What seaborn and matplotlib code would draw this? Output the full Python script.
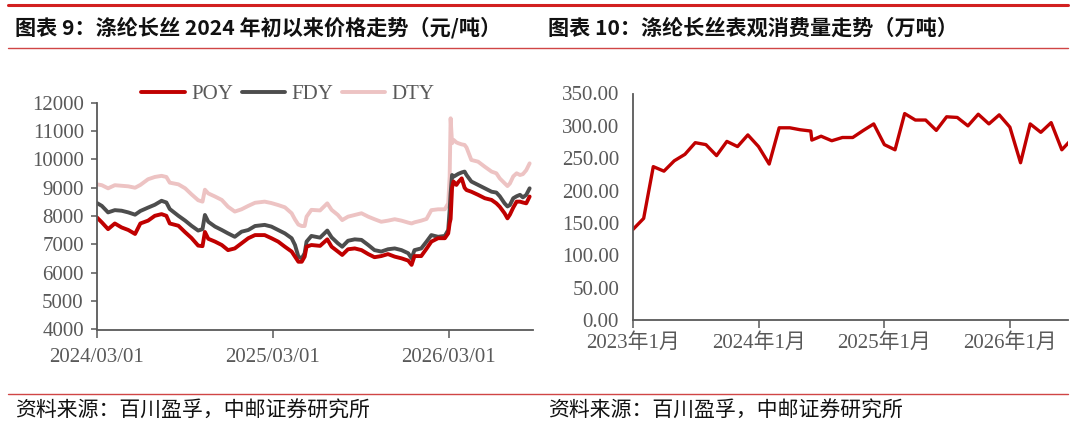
import matplotlib
matplotlib.use("Agg")
import numpy as np
import pandas as pd
import matplotlib.pyplot as plt
import matplotlib.dates as mdates
from matplotlib.lines import Line2D
import seaborn as sns

# ---- data: left chart, prices (yuan/ton) ----
price_dates = [
    "2024-03-01", "2024-03-11", "2024-03-24", "2024-04-07", "2024-04-21", "2024-05-05",
    "2024-05-19", "2024-05-30", "2024-06-15", "2024-06-29", "2024-07-13", "2024-07-23",
    "2024-07-30", "2024-08-17", "2024-08-31", "2024-09-13", "2024-09-27", "2024-10-06",
    "2024-10-11", "2024-10-18", "2024-11-01", "2024-11-15", "2024-11-28", "2024-12-12",
    "2024-12-26", "2025-01-09", "2025-01-23", "2025-02-12", "2025-02-26", "2025-03-12",
    "2025-03-26", "2025-04-09", "2025-04-16", "2025-04-23", "2025-04-30", "2025-05-06",
    "2025-05-10", "2025-05-20", "2025-06-07", "2025-06-22", "2025-07-01", "2025-07-14",
    "2025-07-23", "2025-08-04", "2025-08-18", "2025-09-01", "2025-09-15", "2025-09-28",
    "2025-10-12", "2025-10-26", "2025-11-09", "2025-11-23", "2025-12-07", "2025-12-14",
    "2025-12-20", "2026-01-03", "2026-01-14", "2026-01-24", "2026-02-07", "2026-02-21",
    "2026-02-28", "2026-03-03", "2026-03-05", "2026-03-08", "2026-03-11", "2026-03-17",
    "2026-03-21", "2026-03-28", "2026-04-03", "2026-04-07", "2026-04-17", "2026-05-01",
    "2026-05-15", "2026-05-29", "2026-06-08", "2026-06-15", "2026-06-25", "2026-07-01",
    "2026-07-06", "2026-07-13", "2026-07-20", "2026-07-27", "2026-08-02", "2026-08-09",
    "2026-08-16",
]
dty = [
    9120, 9090, 8980, 9090, 9070, 9050, 9000, 9100, 9300, 9380, 9420, 9380,
    9180, 9120, 8980, 8770, 8560, 8510, 8930, 8800, 8690, 8570, 8330, 8160,
    8240, 8360, 8470, 8510, 8460, 8390, 8310, 8100, 7880, 7700, 7650, 7650,
    7980, 8220, 8200, 8450, 8220, 8040, 7860, 7980, 8040, 8100, 7980, 7890,
    7800, 7840, 7890, 7840, 7770, 7740, 7780, 7840, 7900, 8210, 8240, 8240,
    8450, 9390, 11450, 10570, 10690, 10600, 10570, 10530, 10510, 10420, 9980, 9920,
    9740, 9570, 9510, 9330, 9160, 9060, 9150, 9400, 9510, 9450, 9480, 9620,
    9860,
]
fdy = [
    8460, 8360, 8130, 8210, 8190, 8130, 8050, 8180, 8300, 8400, 8540, 8480,
    8250, 8010, 7840, 7660, 7490, 7540, 8040, 7800, 7630, 7510, 7390, 7270,
    7450, 7510, 7650, 7690, 7630, 7510, 7390, 7220, 6980, 6570, 6510, 6690,
    7100, 7300, 7240, 7490, 7250, 7040, 6920, 7130, 7180, 7160, 6980, 6800,
    6750, 6830, 6860, 6800, 6690, 6510, 6800, 6860, 7100, 7330, 7270, 7300,
    7510, 8220, 8800, 9450, 9390, 9450, 9490, 9540, 9570, 9450, 9220, 9100,
    8980, 8860, 8830, 8700, 8450, 8340, 8390, 8630, 8700, 8750, 8660, 8750,
    8980,
]
poy = [
    7950, 7780, 7540, 7740, 7600, 7510, 7370, 7740, 7840, 8010, 8070, 8010,
    7740, 7660, 7430, 7230, 6960, 6940, 7440, 7200, 7100, 6980, 6800, 6860,
    7040, 7220, 7330, 7330, 7220, 7100, 6920, 6750, 6570, 6390, 6390, 6570,
    6920, 6980, 6950, 7180, 6920, 6750, 6630, 6830, 6860, 6800, 6660, 6550,
    6590, 6660, 6570, 6510, 6430, 6280, 6590, 6590, 6850, 7100, 7220, 7220,
    7390, 7750, 7900, 9000, 9220, 9100, 9200, 9330, 9000, 8920, 8860, 8750,
    8630, 8570, 8450, 8330, 8100, 7920, 8050, 8300, 8510, 8510, 8480, 8450,
    8690,
]
price_ticks = ["2024-03-01", "2025-03-01", "2026-03-01"]

# ---- data: right chart, apparent consumption (10k tons) ----
cons_dates = [
    "2023-01-01", "2023-02-01", "2023-03-01", "2023-04-01", "2023-05-01", "2023-06-01",
    "2023-07-01", "2023-08-01", "2023-09-01", "2023-10-01", "2023-11-01", "2023-12-01",
    "2024-01-01", "2024-02-01", "2024-03-01", "2024-04-01", "2024-05-01", "2024-06-01",
    "2024-06-04", "2024-07-01", "2024-08-01", "2024-09-01", "2024-10-01", "2024-11-01",
    "2024-12-01", "2025-01-01", "2025-02-01", "2025-03-01", "2025-04-01", "2025-05-01",
    "2025-06-01", "2025-07-01", "2025-08-01", "2025-09-01", "2025-10-01", "2025-11-01",
    "2025-12-01", "2026-01-01", "2026-02-01", "2026-03-01", "2026-04-01", "2026-05-01",
    "2026-06-01", "2026-07-01",
]
consumption = [
    140, 157, 237, 230, 246, 256, 274, 271, 254, 276, 268, 286,
    268, 241, 297, 297, 294, 292, 278, 284, 277, 282, 282, 293,
    303, 271, 263, 319, 309, 309, 293, 314, 313, 300, 318, 303,
    317, 298, 243, 303, 290, 305, 263, 280,
]
cons_ticks = ["2023-01-01", "2024-01-01", "2025-01-01", "2026-01-01"]
cons_tick_labels = ["2023年1月", "2024年1月", "2025年1月", "2026年1月"]

titles = ["图表 9：涤纶长丝 2024 年初以来价格走势（元/吨）",
          "图表 10：涤纶长丝表观消费量走势（万吨）"]
source = "资料来源：百川盈孚，中邮证券研究所"

sns.set_style("white")
plt.rcParams["font.family"] = ["Liberation Serif", "Noto Sans CJK SC", "DejaVu Sans"]

W, H = 1080, 428
fig = plt.figure(figsize=(W / 100, H / 100), dpi=100)

def fx(px):
    return px / W

def fy(py):
    return 1 - py / H

gray = "#595959"
red = "#C00000"

# header / footer rules
fig.add_artist(Line2D([fx(8), fx(1068)], [fy(4.5), fy(4.5)], color="#D22020", lw=2.2))
fig.add_artist(Line2D([fx(8), fx(1068)], [fy(48), fy(48)], color="#D04545", lw=1.0))
fig.add_artist(Line2D([fx(8), fx(1068)], [fy(394), fy(394)], color="#D04545", lw=1.0))

for x0, t in zip([15, 548], titles):
    fig.text(fx(x0), fy(28), t, fontsize=15.2, fontweight="bold", va="center", ha="left",
             family=["Noto Sans CJK SC", "DejaVu Sans"], color="#111111")
    fig.text(fx(x0), fy(411), source, fontsize=15, va="center", ha="left",
             family=["Noto Sans CJK SC", "DejaVu Sans"], color="#111111")

# ---- left chart ----
prices = pd.DataFrame({
    "date": pd.to_datetime(price_dates),
    "POY": poy, "FDY": fdy, "DTY": dty,
})
ax1 = fig.add_axes([fx(97), fy(329.5), fx(533 - 97), (329.5 - 102.7) / H])
colors = {"POY": red, "FDY": "#4D4D4D", "DTY": "#EDC3C3"}
for name in ["DTY", "FDY", "POY"]:
    sns.lineplot(data=prices, x="date", y=name, ax=ax1, color=colors[name], lw=2.8,
                 label=name, legend=False)
ax1.set_xlim(pd.Timestamp("2024-03-01"), pd.Timestamp("2026-08-23"))
ax1.set_ylim(4000, 12000)
ax1.set_yticks(np.arange(4000, 12001, 1000))
ax1.set_xticks(pd.to_datetime(price_ticks))
ax1.xaxis.set_major_formatter(mdates.DateFormatter("%Y/%m/%d"))
ax1.set_xlabel("")
ax1.set_ylabel("")
ax1.tick_params(axis="y", direction="out", length=4.5, width=1.1, color=gray,
                labelsize=15, labelcolor=gray, pad=5, left=True)
ax1.tick_params(axis="x", direction="out", length=6, width=1.1, color=gray,
                labelsize=15, labelcolor=gray, pad=7, bottom=True)
for s in ["top", "right"]:
    ax1.spines[s].set_visible(False)
for s in ["left", "bottom"]:
    ax1.spines[s].set_color(gray)
    ax1.spines[s].set_linewidth(1.3)

handles = [Line2D([], [], color=colors[n], lw=2.8) for n in ["POY", "FDY", "DTY"]]
fig.legend(handles, ["POY", "FDY", "DTY"], loc="center", bbox_to_anchor=(fx(288), fy(94)),
           ncol=3, frameon=False, fontsize=15, handlelength=2.1, handletextpad=0.3,
           columnspacing=0.4, labelcolor=gray, borderpad=0)

# ---- right chart ----
cons = pd.DataFrame({"date": pd.to_datetime(cons_dates), "value": consumption})
ax2 = fig.add_axes([fx(633), fy(320), fx(1068 - 633), (320 - 93.5) / H])
sns.lineplot(data=cons, x="date", y="value", ax=ax2, color=red, lw=2.4)
ax2.set_xlim(pd.Timestamp("2023-01-01"), pd.Timestamp("2026-06-19"))
ax2.set_ylim(0, 350)
ax2.set_yticks(np.arange(0, 351, 50))
ax2.set_yticklabels([f"{v:.2f}" for v in np.arange(0, 351, 50)])
ax2.set_xticks(pd.to_datetime(cons_ticks))
ax2.set_xticklabels(cons_tick_labels)
ax2.set_xlabel("")
ax2.set_ylabel("")
ax2.tick_params(axis="y", length=0, labelsize=15, labelcolor=gray, pad=10, left=True)
ax2.tick_params(axis="x", direction="out", length=5.5, width=1.1, color=gray,
                labelsize=15, labelcolor=gray, pad=4, bottom=True)
for s in ["top", "right"]:
    ax2.spines[s].set_visible(False)
for s in ["left", "bottom"]:
    ax2.spines[s].set_color(gray)
    ax2.spines[s].set_linewidth(1.3)

fig.savefig("out.png", dpi=100)
